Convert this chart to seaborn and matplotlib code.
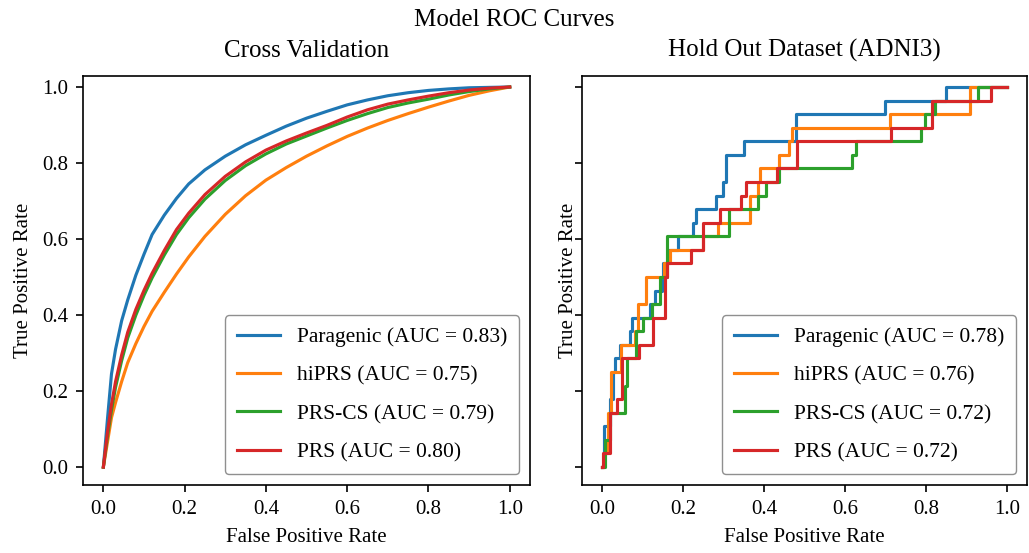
import matplotlib
matplotlib.use("Agg")
import matplotlib.pyplot as plt
import seaborn as sns
import pandas as pd

# model names, colours and AUC labels
models = ["Paragenic", "hiPRS", "PRS-CS", "PRS"]
colors = ["#1f77b4", "#ff7f0e", "#2ca02c", "#d62728"]
cv_auc = ["0.83", "0.75", "0.79", "0.80"]
ho_auc = ["0.78", "0.76", "0.72", "0.72"]

# cross validation curves
cv_fpr = [0, 0.01, 0.02, 0.03, 0.045, 0.06, 0.08, 0.1, 0.12, 0.15, 0.18, 0.21, 0.25, 0.3,
          0.35, 0.4, 0.45, 0.5, 0.55, 0.6, 0.65, 0.7, 0.75, 0.8, 0.85, 0.9, 0.95, 1.0]
cv_tpr_paragenic = [0, 0.125, 0.245, 0.31, 0.385, 0.44, 0.505, 0.56, 0.612, 0.663, 0.707, 0.745, 0.782, 0.818,
                    0.848, 0.873, 0.897, 0.918, 0.936, 0.953, 0.966, 0.977, 0.985, 0.991, 0.995, 0.998, 0.999, 1.0]
cv_tpr_hiprs = [0, 0.065, 0.13, 0.17, 0.225, 0.275, 0.325, 0.37, 0.41, 0.46, 0.508, 0.553, 0.607, 0.665,
                0.714, 0.755, 0.788, 0.818, 0.845, 0.87, 0.892, 0.912, 0.93, 0.947, 0.963, 0.978, 0.99, 1.0]
cv_tpr_prscs = [0, 0.08, 0.15, 0.21, 0.28, 0.34, 0.40, 0.452, 0.498, 0.558, 0.612, 0.656, 0.705, 0.754,
                0.793, 0.824, 0.85, 0.871, 0.892, 0.912, 0.93, 0.946, 0.958, 0.968, 0.979, 0.988, 0.995, 1.0]
cv_tpr_prs = [0, 0.09, 0.165, 0.225, 0.295, 0.355, 0.415, 0.465, 0.51, 0.57, 0.625, 0.668, 0.717, 0.765,
              0.803, 0.834, 0.858, 0.879, 0.899, 0.921, 0.94, 0.955, 0.966, 0.976, 0.985, 0.992, 0.997, 1.0]

# hold out (ADNI3) curves: fpr where tpr steps up, tpr after the step
ho_fpr_paragenic = [0, 0.005, 0.02, 0.027, 0.032, 0.044, 0.069, 0.073, 0.118, 0.13, 0.147, 0.151, 0.163,
                    0.188, 0.224, 0.233, 0.282, 0.298, 0.306, 0.351, 0.478, 0.70, 0.85, 1.0]
ho_tpr_paragenic = [0, 0.107, 0.179, 0.25, 0.286, 0.321, 0.357, 0.393, 0.429, 0.464, 0.5, 0.536, 0.571,
                    0.607, 0.643, 0.679, 0.714, 0.75, 0.821, 0.857, 0.929, 0.964, 1.0, 1.0]
ho_fpr_hiprs = [0, 0.005, 0.015, 0.022, 0.047, 0.081, 0.088, 0.108, 0.152, 0.167, 0.248, 0.286, 0.364,
                0.384, 0.39, 0.437, 0.462, 0.47, 0.712, 0.91, 1.0]
ho_tpr_hiprs = [0, 0.036, 0.143, 0.25, 0.321, 0.357, 0.429, 0.5, 0.536, 0.571, 0.607, 0.643, 0.714,
                0.75, 0.786, 0.821, 0.857, 0.893, 0.929, 1.0, 1.0]
ho_fpr_prscs = [0, 0.008, 0.019, 0.057, 0.062, 0.084, 0.10, 0.122, 0.143, 0.16, 0.314, 0.384, 0.405,
                0.437, 0.617, 0.626, 0.788, 0.798, 0.822, 0.929, 1.0]
ho_tpr_prscs = [0, 0.071, 0.143, 0.214, 0.286, 0.357, 0.393, 0.429, 0.5, 0.607, 0.679, 0.714, 0.75,
                0.786, 0.821, 0.857, 0.893, 0.929, 0.964, 1.0, 1.0]
ho_fpr_prs = [0, 0.002, 0.018, 0.036, 0.048, 0.091, 0.126, 0.155, 0.159, 0.22, 0.249, 0.29, 0.343,
              0.356, 0.433, 0.482, 0.714, 0.816, 0.961, 1.0]
ho_tpr_prs = [0, 0.036, 0.143, 0.179, 0.286, 0.321, 0.393, 0.5, 0.536, 0.571, 0.643, 0.679, 0.714,
              0.75, 0.786, 0.857, 0.893, 0.964, 1.0, 1.0]

plt.rcParams.update({
    "font.family": ["Liberation Serif", "DejaVu Serif"],
    "font.size": 15,
    "axes.titlesize": 18,
    "figure.titlesize": 18,
    "axes.labelsize": 15,
    "xtick.labelsize": 15,
    "ytick.labelsize": 15,
    "legend.fontsize": 15.5,
    "legend.labelspacing": 0.85,
    "legend.borderpad": 0.55,
    "lines.linewidth": 2.25,
    "axes.linewidth": 1.2,
    "xtick.major.size": 5.25,
    "ytick.major.size": 5.25,
    "xtick.major.width": 1.2,
    "ytick.major.width": 1.2,
    "xtick.major.pad": 5.25,
    "ytick.major.pad": 5.25,
    "axes.labelpad": 7,
    "legend.edgecolor": "0.45",
})


def long_frame(fprs, tprs, aucs):
    parts = []
    for name, auc, f, t in zip(models, aucs, fprs, tprs):
        parts.append(pd.DataFrame({"fpr": f, "tpr": t, "model": f"{name} (AUC = {auc})"}))
    return pd.concat(parts, ignore_index=True)


cv = long_frame([cv_fpr] * 4,
                [cv_tpr_paragenic, cv_tpr_hiprs, cv_tpr_prscs, cv_tpr_prs], cv_auc)
ho = long_frame([ho_fpr_paragenic, ho_fpr_hiprs, ho_fpr_prscs, ho_fpr_prs],
                [ho_tpr_paragenic, ho_tpr_hiprs, ho_tpr_prscs, ho_tpr_prs], ho_auc)

fig = plt.figure(figsize=(10.29, 5.53), dpi=100)
ax1 = fig.add_axes([0.0807, 0.123, 0.4344, 0.7396])
ax2 = fig.add_axes([0.5656, 0.123, 0.4325, 0.7396], sharey=ax1)

sns.lineplot(data=cv, x="fpr", y="tpr", hue="model", hue_order=cv["model"].unique(),
             palette=colors, estimator=None, sort=False, legend=False, ax=ax1)
sns.lineplot(data=ho, x="fpr", y="tpr", hue="model", hue_order=ho["model"].unique(),
             palette=colors, estimator=None, sort=False, legend=False, ax=ax2,
             drawstyle="steps-post")

for ax, frame, title in [(ax1, cv, "Cross Validation"), (ax2, ho, "Hold Out Dataset (ADNI3)")]:
    ax.set_title(title, pad=14)
    ax.set_xlabel("False Positive Rate")
    ax.set_ylabel("True Positive Rate")
    ax.set_xlim(-0.05, 1.05)
    ax.legend(ax.lines, list(frame["model"].unique()), loc="lower right")

ax1.set_ylim(-0.047, 1.029)
ax2.tick_params(labelleft=False)
ax2.yaxis.labelpad = -2.5
fig.suptitle("Model ROC Curves", y=0.984)

fig.savefig("out.png", dpi=100)
